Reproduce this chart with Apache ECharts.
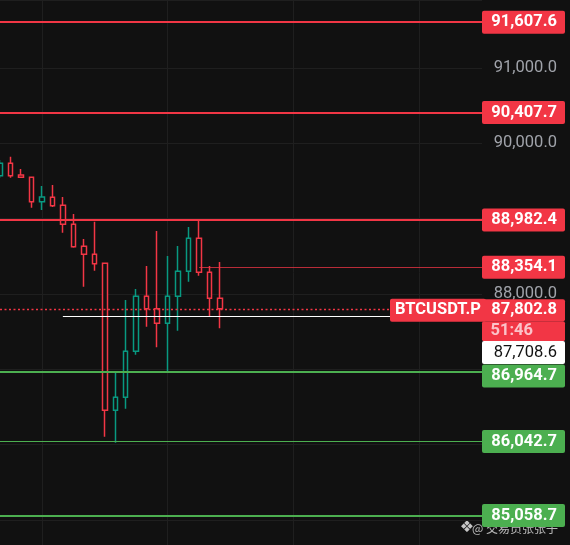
<!DOCTYPE html>
<html><head><meta charset="utf-8">
<script src="https://cdn.jsdelivr.net/npm/echarts@6/dist/echarts.min.js"></script>
<style>html,body{margin:0;padding:0;background:#111111;} #c{width:570px;height:545px;}</style>
</head><body><div id="c"></div>
<script>
// ---- data ----
const categories = Array.from({length: 47}, (_, i) => 'k' + i);
// each candle: [open, close, low, high]
const candles = [
  [89570, 89735, 89540, 89778],
  [89735, 89570, 89543, 89822],
  [89579, 89549, 89548, 89659],
  [89549, 89225, 89145, 89552],
  [89225, 89287, 89115, 89433],
  [89283, 89172, 89155, 89446],
  [89177, 88925, 88813, 89287],
  [88925, 88628, 88614, 89062],
  [88633, 88527, 88097, 88730],
  [88527, 88402, 88309, 88959],
  [88407, 86456, 86106, 88410],
  [86456, 86629, 86026, 86968],
  [86629, 87239, 86477, 87920],
  [87239, 87969, 87194, 88066],
  [87969, 87805, 87566, 88371],
  [87805, 87611, 87292, 88836],
  [87611, 87969, 86968, 88504],
  [87969, 88301, 87513, 88637],
  [88301, 88739, 88163, 88889],
  [88739, 88288, 88243, 88982],
  [88288, 87943, 87708, 88371],
  [87943, 87802.8, 87544, 88424]
];
const resistanceLevels = [91607.6, 90407.7, 88982.4];
const recentHigh = 88354.1;
const recentHighStart = 19;
const lastPrice = 87802.8;
const countdown = '51:46';
const markPrice = 87708.6;
const markPriceStart = 6;
const supportLevels = [86964.7, 86042.7, 85058.7];
const shownTicks = [91000, 90000, 88000];
const yRange = [84668.2, 91902.0];
const symbolName = 'BTCUSDT.P';
const watermarkLogo = '❖';
const watermarkText = '@ 交易员张张子';

// ---- style ----
const RED = '#f23645', GREEN = '#4caf50', TEAL = '#089981', BG = '#111111';
const FONT = 'Roboto';
const fmt = v => v.toLocaleString('en-US', {minimumFractionDigits: 1, maximumFractionDigits: 1});

const tok = (bg, color, weight, h) => ({
  backgroundColor: bg, color: color, fontWeight: weight, fontSize: 16.5, fontFamily: FONT,
  width: 75, height: h, lineHeight: h, align: 'right', padding: [0, 8, 0, 0], borderRadius: 2
});
const RICH = {
  r: tok(RED, '#ffffff', 'bold', 23),
  g: tok(GREEN, '#ffffff', 'bold', 23),
  p: tok(RED, '#ffffff', 'bold', 22),
  t: Object.assign(tok(RED, '#fbc3c9', 'bold', 20), {width: 51, padding: [0, 32, 0, 0]}),
  w: tok('#ffffff', '#111111', 'normal', 23),
  s: {backgroundColor: RED, color: '#ffffff', fontWeight: 'bold', fontSize: 16.5, fontFamily: FONT,
      height: 23, lineHeight: 23, padding: [0, 5, 0, 5], borderRadius: 2}
};
const lbl = (text, padTop) => ({
  show: true, position: 'end', distance: 0, rich: RICH,
  padding: [padTop || 0, 0, 0, 0], formatter: () => text
});

const lineData = [];
resistanceLevels.forEach(v => lineData.push({
  yAxis: v, lineStyle: {color: RED, width: 2, type: 'solid'}, label: lbl('{r|' + fmt(v) + '}')
}));
lineData.push([
  {coord: [categories[recentHighStart], recentHigh], lineStyle: {color: 'rgba(242,54,69,0.75)', width: 1, type: 'solid'},
   label: lbl('{r|' + fmt(recentHigh) + '}')},
  {coord: [categories[categories.length - 1], recentHigh]}
]);
lineData.push({
  yAxis: lastPrice, lineStyle: {color: RED, width: 1.3, type: [2, 2.5]},
  label: lbl('{p|' + fmt(lastPrice) + '}\n{t|' + countdown + '}', 23)
});
lineData.push([
  {coord: [categories[0], lastPrice], lineStyle: {color: 'rgba(0,0,0,0)', width: 1},
   label: {show: true, position: 'insideEnd', distance: -4, rich: RICH, padding: [3, 0, 0, 0],
           formatter: () => '{s|' + symbolName + '}'}},
  {coord: [categories[categories.length - 1], lastPrice]}
]);
lineData.push([
  {coord: [categories[markPriceStart], markPrice], lineStyle: {color: '#ffffff', width: 1, type: 'solid'},
   label: lbl('{w|' + fmt(markPrice) + '}', 73)},
  {coord: [categories[categories.length - 1], markPrice]}
]);
supportLevels.forEach((v, i) => lineData.push({
  yAxis: v, lineStyle: {color: GREEN, width: i === 1 ? 1 : 2, type: 'solid'},
  label: lbl('{g|' + fmt(v) + '}', i === 0 ? 8 : 0)
}));

const chart = echarts.init(document.getElementById('c'), null, {renderer: 'canvas'});
chart.setOption({
  backgroundColor: BG,
  animation: false,
  grid: {left: -2, width: 484, top: 0, bottom: 0, containLabel: false},
  xAxis: {
    type: 'category', data: categories, boundaryGap: false,
    axisLine: {show: false}, axisTick: {show: false}, axisLabel: {show: false},
    splitLine: {show: true, interval: (i) => i % 12 === 4, lineStyle: {color: '#1f1f1f', width: 1}}
  },
  yAxis: {
    type: 'value', position: 'right', min: yRange[0], max: yRange[1], splitNumber: 7,
    axisLine: {show: false}, axisTick: {show: false},
    splitLine: {show: true, lineStyle: {color: '#1f1f1f', width: 1}},
    axisLabel: {
      align: 'right', margin: 75, color: '#a0a3aa', fontSize: 16.5, fontFamily: FONT,
      showMinLabel: false, showMaxLabel: false,
      formatter: v => shownTicks.includes(v) ? fmt(v) : ''
    }
  },
  series: [{
    type: 'candlestick',
    data: candles,
    barWidth: 5,
    itemStyle: {color: BG, color0: BG, borderColor: TEAL, borderColor0: RED, borderWidth: 1.5},
    markLine: {
      silent: true, symbol: ['none', 'none'], animation: false,
      data: lineData
    }
  }],
  graphic: [{
    type: 'text', right: 96, bottom: 9,
    style: {text: watermarkLogo, fill: 'rgba(230,230,230,0.85)', font: '16px "DejaVu Sans"'}
  }, {
    type: 'text', right: 12, bottom: 11,
    style: {text: watermarkText, fill: 'rgba(225,225,225,0.8)', font: '12px "Noto Sans CJK SC"'}
  }]
});
</script></body></html>
